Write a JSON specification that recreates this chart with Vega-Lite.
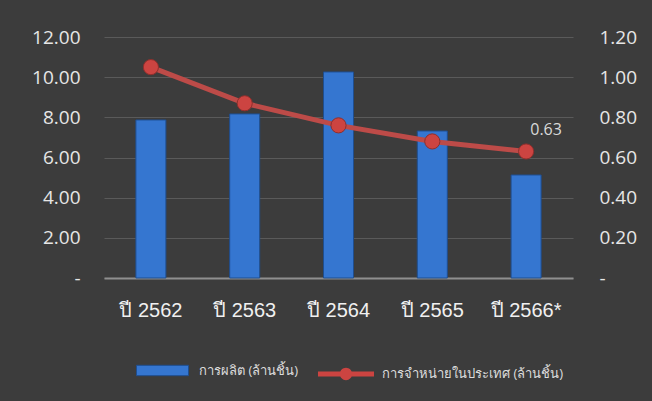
{
  "$schema": "https://vega.github.io/schema/vega-lite/v6.json",
  "width": 469,
  "height": 241,
  "autosize": {"type": "none"},
  "padding": {"left": 104, "top": 37, "right": 79, "bottom": 123},
  "background": "#3c3c3c",
  "config": {
    "view": {"stroke": null},
    "font": "Open Sans",
    "axis": {"labelColor": "#e6e6e6", "ticks": false, "domain": false, "title": null}
  },
  "data": {
    "values": [
      {"year": "ปี 2562", "prod": 7.87, "sales": 1.05},
      {"year": "ปี 2563", "prod": 8.17, "sales": 0.87},
      {"year": "ปี 2564", "prod": 10.26, "sales": 0.76},
      {"year": "ปี 2565", "prod": 7.32, "sales": 0.68},
      {"year": "ปี 2566*", "prod": 5.13, "sales": 0.63}
    ]
  },
  "encoding": {
    "x": {
      "field": "year",
      "type": "nominal",
      "sort": null,
      "scale": {"paddingInner": 0.68, "paddingOuter": 0.34},
      "axis": {
        "labelAngle": 0,
        "labelFontSize": 20,
        "labelFont": "Liberation Sans",
        "labelColor": "#f0f0f0",
        "labelPadding": 22,
        "domain": true,
        "domainColor": "#8f8f8f",
        "domainWidth": 2,
        "grid": false
      }
    }
  },
  "layer": [
    {
      "mark": {"type": "bar", "stroke": "#1f4e8f", "strokeWidth": 1},
      "encoding": {
        "y": {
          "field": "prod",
          "type": "quantitative",
          "scale": {"domain": [0, 12]},
          "axis": {
            "orient": "left",
            "values": [0, 2, 4, 6, 8, 10, 12],
            "labelExpr": "datum.value == 0 ? '-\u00a0\u00a0' : format(datum.value, '.2f')",
            "labelFontSize": 19,
            "labelPadding": 24,
            "grid": true,
            "gridColor": "#5a5a5a",
            "gridWidth": 1
          }
        },
        "fill": {
          "datum": "การผลิต (ล้านชิ้น)",
          "type": "nominal",
          "scale": {"range": ["#3576d0"]},
          "legend": {
            "orient": "none",
            "legendX": 32,
            "legendY": 307,
            "title": null,
            "symbolType": "M-1,-0.2H1V0.2H-1Z",
            "symbolSize": 2704,
            "symbolStrokeColor": "#1f4e8f",
            "symbolStrokeWidth": 1,
            "symbolOpacity": 1,
            "labelColor": "#dddddd",
            "labelFontSize": 13,
            "labelOffset": 10,
            "labelLimit": 300
          }
        }
      }
    },
    {
      "layer": [
        {
          "mark": {"type": "line", "color": "#bd4b48", "strokeWidth": 5},
          "encoding": {
            "y": {
              "field": "sales",
              "type": "quantitative",
              "scale": {"domain": [0, 1.2]},
              "axis": {
                "orient": "right",
                "values": [0, 0.2, 0.4, 0.6, 0.8, 1, 1.2],
                "labelExpr": "datum.value == 0 ? '-' : format(datum.value, '.2f')",
                "labelFontSize": 19,
                "labelPadding": 26,
                "grid": false
              }
            }
          }
        },
        {
          "mark": {"type": "point", "filled": true, "size": 230, "opacity": 1, "stroke": "#8e2f2c", "strokeWidth": 1},
          "encoding": {
            "y": {"field": "sales", "type": "quantitative"},
            "fill": {
              "datum": "การจำหน่ายในประเทศ (ล้านชิ้น)",
              "type": "nominal",
              "scale": {"range": ["#cc4441"]},
              "legend": {
                "orient": "none",
                "legendX": 214,
                "legendY": 309,
                "title": null,
                "symbolType": "M-1,-0.09H1V0.09H-1Z M-0.22,0A0.22,0.22 0 1,1 0.22,0A0.22,0.22 0 1,1 -0.22,0Z",
                "symbolSize": 3136,
                "symbolOpacity": 1,
                "symbolStrokeWidth": 0,
                "labelColor": "#dddddd",
                "labelFontSize": 13,
                "labelOffset": 8,
                "labelLimit": 300
              }
            }
          }
        },
        {
          "transform": [{"filter": "datum.year == 'ปี 2566*'"}],
          "mark": {"type": "text", "dx": 20, "dy": -21, "fontSize": 16, "color": "#d9d9d9"},
          "encoding": {
            "y": {"field": "sales", "type": "quantitative"},
            "text": {"field": "sales", "type": "quantitative", "format": ".2f"}
          }
        }
      ]
    }
  ],
  "resolve": {"scale": {"y": "independent", "fill": "independent"}, "legend": {"fill": "independent"}}
}
